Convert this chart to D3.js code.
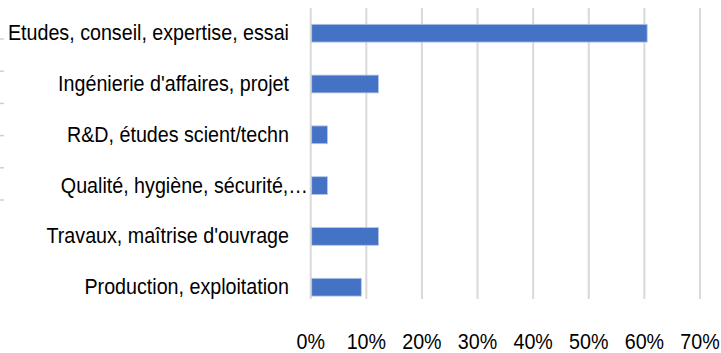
<!DOCTYPE html>
<html>
<head>
<meta charset="utf-8">
<script src="https://cdn.jsdelivr.net/npm/d3@7/dist/d3.min.js"></script>
<style>
  html, body { margin: 0; padding: 0; background: #fff; }
  svg { display: block; }
  text { font-family: "Liberation Sans", Arial, sans-serif; fill: #000; }
</style>
</head>
<body>
<svg id="chart" width="721" height="353"></svg>
<script>
// Share of positions by job family
const categories = [
  "Etudes, conseil, expertise, essai",
  "Ingénierie d'affaires, projet",
  "R&D, études scient/techn",
  "Qualité, hygiène, sécurité,…",
  "Travaux, maîtrise d'ouvrage",
  "Production, exploitation"
];
const shares = [0.605, 0.122, 0.030, 0.030, 0.122, 0.091];
const tickValues = [0, 0.1, 0.2, 0.3, 0.4, 0.5, 0.6, 0.7];

const W = 721, H = 353;
const fontSize = 22;
const squeeze = 0.895;   // narrow rendering of the Arial-like face

const svg = d3.select("#chart");

const x = d3.scaleLinear().domain([0, 0.7]).range([310.7, 700]);
const y = d3.scaleBand().domain(categories)
  .range([7.8, 312.6]).paddingInner(0.65).paddingOuter(0.325);

const gridTop = 8, gridBottom = 299;

// vertical gridlines
svg.append("g").selectAll("line")
  .data(tickValues).join("line")
  .attr("x1", d => x(d)).attr("x2", d => x(d))
  .attr("y1", gridTop).attr("y2", gridBottom)
  .attr("stroke", "#d9d9d9").attr("stroke-width", 2);

// small stray tick marks on the far left edge
const edgeTicks = d3.scalePoint().domain(d3.range(6)).range([39, 200]);
svg.append("g").selectAll("line")
  .data(edgeTicks.domain()).join("line")
  .attr("x1", 0).attr("x2", 4)
  .attr("y1", d => edgeTicks(d)).attr("y2", d => edgeTicks(d))
  .attr("stroke", "#d0d0d0").attr("stroke-width", 1.5);

// bars
svg.append("g").selectAll("rect")
  .data(categories).join("rect")
  .attr("x", x(0) + 1)
  .attr("y", d => y(d))
  .attr("width", (d, i) => x(shares[i]) - x(0) - 1)
  .attr("height", y.bandwidth())
  .attr("fill", "#4472c4")
  .attr("stroke", "#b4c7e7").attr("stroke-width", 0.8);

// category labels (right aligned)
const labelRight = 289;
svg.append("g").selectAll("text")
  .data(categories).join("text")
  .attr("transform", (d, i) => {
    const xr = d.endsWith("…") ? 308 : labelRight;
    return `translate(${xr},${y(d) + y.bandwidth() / 2 + 7}) scale(${squeeze},1)`;
  })
  .attr("text-anchor", "end")
  .attr("font-size", fontSize)
  .text(d => d);

// value axis labels
const fmt = d3.format(".0%");
svg.append("g").selectAll("text")
  .data(tickValues).join("text")
  .attr("transform", d => `translate(${x(d)},349) scale(${squeeze},1)`)
  .attr("text-anchor", "middle")
  .attr("font-size", fontSize)
  .text(d => fmt(d));
</script>
</body>
</html>
